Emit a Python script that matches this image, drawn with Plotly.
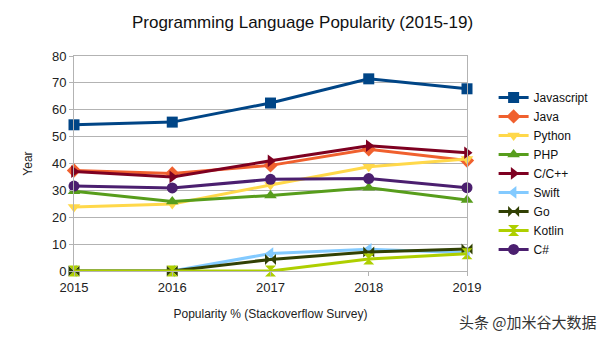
import plotly.graph_objects as go

years = [2015, 2016, 2017, 2018, 2019]
languages = ["Javascript", "Java", "Python", "PHP", "C/C++", "Swift", "Go", "Kotlin", "C#"]
javascript = [54.4, 55.4, 62.5, 71.5, 67.8]
java = [37.4, 36.3, 39.3, 45.3, 41.1]
python = [23.8, 24.9, 32.0, 38.8, 41.7]
php = [29.7, 25.9, 28.1, 31.0, 26.4]
c_cpp = [37.0, 35.0, 41.0, 46.6, 44.0]
swift = [0, 0, 6.5, 8.1, 6.8]
go_lang = [0, 0, 4.3, 7.1, 8.2]
kotlin = [0, 0, 0, 4.5, 6.4]
csharp = [31.6, 30.9, 34.1, 34.4, 31.0]
y_ticks = [0, 10, 20, 30, 40, 50, 60, 70, 80]

series = [javascript, java, python, php, c_cpp, swift, go_lang, kotlin, csharp]
colors = ["#004586", "#f0602e", "#ffd84a", "#579d1c", "#7e0021",
          "#83caff", "#314004", "#aecf00", "#4b1f6f"]
symbols = ["square", "diamond", "triangle-down", "triangle-up", "triangle-right",
           "triangle-left", "bowtie", "hourglass", "circle"]

fig = go.Figure()
for name, vals, col, sym in zip(languages, series, colors, symbols):
    fig.add_trace(go.Scatter(
        x=years, y=vals, name=name, mode="lines+markers",
        line=dict(color=col, width=3),
        marker=dict(symbol=sym, size=11, color=col),
        cliponaxis=False,
    ))

fig.update_layout(
    width=605, height=340,
    margin=dict(l=74, r=137, t=56, b=69),
    paper_bgcolor="white", plot_bgcolor="white",
    font=dict(family="Liberation Sans, Arial, sans-serif", color="#222", size=13),
    title=dict(text="Programming Language Popularity (2015-19)", x=0.5, xanchor="center",
               xref="container", y=0.935, yanchor="middle",
               font=dict(size=17, color="#111")),
    showlegend=True,
    legend=dict(x=1.065, y=0.875, xanchor="left", yanchor="top",
                font=dict(size=12, color="#111"), bgcolor="rgba(0,0,0,0)",
                itemwidth=30, tracegroupgap=0),
    annotations=[dict(text="头条 @加米谷大数据", xref="paper", yref="paper",
                      x=1.335, y=-0.235, xanchor="right", yanchor="middle",
                      showarrow=False,
                      font=dict(family="Noto Sans CJK SC", size=15, color="#333"))],
)
fig.update_xaxes(
    range=[2015, 2019], tickmode="array", tickvals=years, ticktext=[str(y) for y in years],
    showgrid=False, showline=True, linecolor="#b3b3b3", linewidth=1, mirror=True,
    ticks="outside", ticklen=4, tickcolor="#b3b3b3", zeroline=False,
    title=dict(text="Popularity % (Stackoverflow Survey)", font=dict(size=12), standoff=16),
    tickfont=dict(size=13),
)
fig.update_yaxes(
    range=[0, 80], tickmode="array", tickvals=y_ticks,
    showgrid=True, gridcolor="#b3b3b3", gridwidth=1,
    showline=True, linecolor="#b3b3b3", linewidth=1, mirror=True,
    ticks="outside", ticklen=4, tickcolor="#b3b3b3", zeroline=False,
    title=dict(text="Year", font=dict(size=12), standoff=16),
    tickfont=dict(size=13),
)

fig.write_html("out.html")
